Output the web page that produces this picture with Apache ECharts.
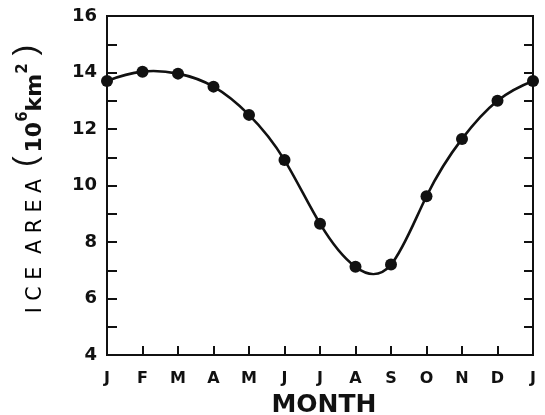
<!DOCTYPE html>
<html>
<head>
<meta charset="utf-8">
<script src="https://cdn.jsdelivr.net/npm/echarts@6/dist/echarts.min.js"></script>
<style>
html,body{margin:0;padding:0;background:#fff;}
#c{width:545px;height:415px;}
</style>
</head>
<body>
<div id="c"></div>
<script>
var months = ['J','F','M','A','M','J','J','A','S','O','N','D','J'];
var iceArea = [13.7, 14.03, 13.96, 13.5, 12.5, 10.9, 8.65, 7.12, 7.2, 9.62, 11.65, 13.0, 13.7];
var yTicks = [4, 6, 8, 10, 12, 14, 16];

var FONT = '"DejaVu Sans", sans-serif';
var INK = '#111';
var chart = echarts.init(document.getElementById('c'), null, {renderer: 'canvas'});

// periodic cubic spline slopes (unit spacing) through the read values
function splineSlopes(y) {
  var n = y.length - 1;
  var M = new Array(n).fill(0), i, k;
  for (k = 0; k < 200; k++) {
    for (i = 0; i < n; i++) {
      var ym = y[(i - 1 + n) % n], yc = y[i], yp = y[(i + 1) % n];
      M[i] = (6 * (yp - 2 * yc + ym) - M[(i - 1 + n) % n] - M[(i + 1) % n]) / 4;
    }
  }
  var d = [];
  for (i = 0; i < n; i++) {
    d.push((y[(i + 1) % n] - y[i]) - (2 * M[i] + M[(i + 1) % n]) / 6);
  }
  d.push(d[0]);
  return d;
}

function renderCurve(params, api) {
  if (params.dataIndex !== 0) return null;
  var d = splineSlopes(iceArea);
  var p0 = api.coord([0, iceArea[0]]);
  var path = 'M' + p0[0] + ' ' + p0[1];
  for (var i = 0; i < iceArea.length - 1; i++) {
    var c1 = api.coord([i + 1 / 3, iceArea[i] + d[i] / 3]);
    var c2 = api.coord([i + 2 / 3, iceArea[i + 1] - d[i + 1] / 3]);
    var p1 = api.coord([i + 1, iceArea[i + 1]]);
    path += ' C' + c1[0] + ' ' + c1[1] + ' ' + c2[0] + ' ' + c2[1] + ' ' + p1[0] + ' ' + p1[1];
  }
  return {
    type: 'path',
    shape: {pathData: path, layout: 'center'},
    style: {fill: null, stroke: INK, lineWidth: 2.6},
    silent: true
  };
}

var LH = 30;
var option = {
  animation: false,
  backgroundColor: '#fff',
  grid: {left: 107, right: 12, top: 16, bottom: 60, show: true, borderColor: INK, borderWidth: 2,
         backgroundColor: 'transparent', containLabel: false, outerBoundsMode: 'none'},
  xAxis: {
    type: 'value', min: 0, max: months.length - 1, interval: 1,
    axisLine: {show: true, lineStyle: {color: INK, width: 2}},
    axisTick: {show: true, inside: true, length: 9, lineStyle: {color: INK, width: 2}},
    splitLine: {show: false},
    axisLabel: {
      margin: 16, color: INK, fontSize: 16, fontWeight: 'bold', fontFamily: FONT,
      formatter: function (v) { return months[v] || ''; }
    },
    name: 'MONTH', nameLocation: 'middle', nameGap: 38,
    nameTextStyle: {color: INK, fontSize: 25, fontWeight: 'bold', fontFamily: FONT, padding: [0, 0, 0, 8]}
  },
  yAxis: [{
    type: 'value', min: 4, max: 16, interval: 1,
    axisLine: {show: true, lineStyle: {color: INK, width: 2}},
    axisTick: {show: true, inside: true, length: 10, lineStyle: {color: INK, width: 2}},
    splitLine: {show: false},
    axisLabel: {
      margin: 10, color: INK, fontSize: 18, fontWeight: 'bold', fontFamily: FONT,
      formatter: function (v) { return yTicks.indexOf(v) >= 0 ? String(v) : ''; }
    },
    name: '{g0| }{a|I C E  A R E A}{g1| }{p|(}{g2| }{b|10}{s|6}{b|km}{s|2}{g3| }{p|)}',
    nameLocation: 'middle', nameGap: 61, nameRotate: 90,
    nameTextStyle: {
      color: INK, fontFamily: FONT,
      rich: {
        g0: {fontSize: 10, width: 13, lineHeight: LH},
        a: {fontSize: 20.5, fontFamily: FONT, color: '#000', lineHeight: LH, verticalAlign: 'bottom'},
        g1: {fontSize: 10, width: 12, lineHeight: LH},
        g2: {fontSize: 10, width: 4, lineHeight: LH},
        g3: {fontSize: 10, width: 8, lineHeight: LH},
        p: {fontSize: 32, fontFamily: '"Liberation Sans", sans-serif', color: INK, lineHeight: LH, verticalAlign: 'middle', padding: [0, 0, 10, 0]},
        b: {fontSize: 22, fontFamily: FONT, color: INK, fontWeight: 'bold', lineHeight: LH, verticalAlign: 'bottom'},
        s: {fontSize: 15, fontFamily: FONT, color: INK, fontWeight: 'bold', lineHeight: LH, verticalAlign: 'top'}
      }
    }
  }, {
    type: 'value', min: 4, max: 16, interval: 1, position: 'right',
    axisLine: {show: true, lineStyle: {color: INK, width: 2}},
    axisTick: {show: true, inside: true, length: 9, lineStyle: {color: INK, width: 2}},
    splitLine: {show: false},
    axisLabel: {show: false}
  }],
  series: [{
    type: 'custom',
    renderItem: renderCurve,
    data: iceArea.map(function (v, i) { return [i, v]; }),
    clip: false,
    z: 4
  }, {
    type: 'scatter',
    data: iceArea.map(function (v, i) { return [i, v]; }),
    symbol: 'circle', symbolSize: 12,
    itemStyle: {color: INK, opacity: 1},
    z: 5
  }]
};
chart.setOption(option);
</script>
</body>
</html>
